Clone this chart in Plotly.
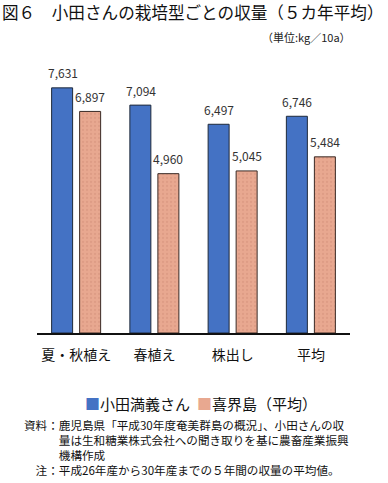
import plotly.graph_objects as go

categories = ["夏・秋植え", "春植え", "株出し", "平均"]
oda = [7631, 7094, 6497, 6746]
kikai = [6897, 4960, 5045, 5484]
series_names = ["小田満義さん", "喜界島（平均）"]

W, H = 388, 483
ML, MR, MT, MB = 37, 38, 76, 150
PH = H - MT - MB
PW = W - ML - MR

def py(p):  # pixel y -> paper
    return (H - MB - p) / PH

def px(p):  # pixel x -> paper
    return (p - ML) / PW

FONT = "Noto Sans CJK JP"
blue = "#4472C4"
salmon = "#E8A890"

fig = go.Figure()
fig.add_trace(go.Bar(x=categories, y=oda, name=series_names[0],
                     marker=dict(color=blue, line=dict(color="#1f2a3a", width=1)), showlegend=False))
fig.add_trace(go.Bar(x=categories, y=kikai, name=series_names[1],
                     marker=dict(color=salmon, line=dict(color="#3a2a25", width=1),
                                 pattern=dict(shape=".", fgcolor="#d4907a", bgcolor=salmon, size=4, solidity=0.25)),
                     showlegend=False))

ann = []
for c, v in zip(categories, oda):
    ann.append(dict(x=c, y=v, xref="x", yref="y", text=f"{v:,}", showarrow=False, xshift=-13.5, yshift=15,
                    font=dict(family=FONT, size=12, color="#333")))
for c, v in zip(categories, kikai):
    ann.append(dict(x=c, y=v, xref="x", yref="y", text=f"{v:,}", showarrow=False, xshift=14, yshift=15,
                    font=dict(family=FONT, size=12, color="#333")))

ann.append(dict(x=px(0), y=py(12), xref="paper", yref="paper", xanchor="left", yanchor="middle", align="left",
                text="図６　小田さんの栽培型ごとの収量（５カ年平均）", showarrow=False,
                font=dict(family=FONT, size=16.6, color="#111")))
ann.append(dict(x=px(353), y=py(37), xref="paper", yref="paper", xanchor="right", yanchor="middle", align="right",
                text="（単位:kg／10a）", showarrow=False, font=dict(family=FONT, size=11, color="#222")))
ann.append(dict(x=px(83), y=py(403), xref="paper", yref="paper", xanchor="left", yanchor="middle", align="left",
                text=f'<span style="color:{blue}">■</span>{series_names[0]}', showarrow=False,
                font=dict(family=FONT, size=15, color="#111")))
ann.append(dict(x=px(195), y=py(403), xref="paper", yref="paper", xanchor="left", yanchor="middle", align="left",
                text=f'<span style="color:{salmon}">■</span>{series_names[1]}', showarrow=False,
                font=dict(family=FONT, size=15, color="#111")))

notes = [
    "資料：鹿児島県「平成30年度奄美群島の概況」、小田さんの収",
    "　　　量は生和糖業株式会社への聞き取りを基に農畜産業振興",
    "　　　機構作成",
    "　注：平成26年産から30年産までの５年間の収量の平均値。",
]
ann.append(dict(x=px(22), y=py(447.5), xref="paper", yref="paper", xanchor="left", yanchor="middle", align="left",
                text="<br>".join(notes), showarrow=False, font=dict(family=FONT, size=11.6, color="#111")))

fig.update_layout(
    width=W, height=H,
    margin=dict(l=ML, r=MR, t=MT, b=MB),
    paper_bgcolor="white", plot_bgcolor="white",
    barmode="group", bargap=0.284, bargroupgap=0.25,
    annotations=ann,
    xaxis=dict(showline=True, linecolor="#111", linewidth=2, ticks="", showgrid=False,
               tickfont=dict(family=FONT, size=14, color="#111"), ticklabelstandoff=8),
    yaxis=dict(visible=False, range=[0, 8000], showgrid=False, zeroline=False),
    font=dict(family=FONT),
)
fig.write_html("out.html", config={"displayModeBar": False},
               post_script="document.body.style.margin='0';document.body.style.overflow='hidden';")
